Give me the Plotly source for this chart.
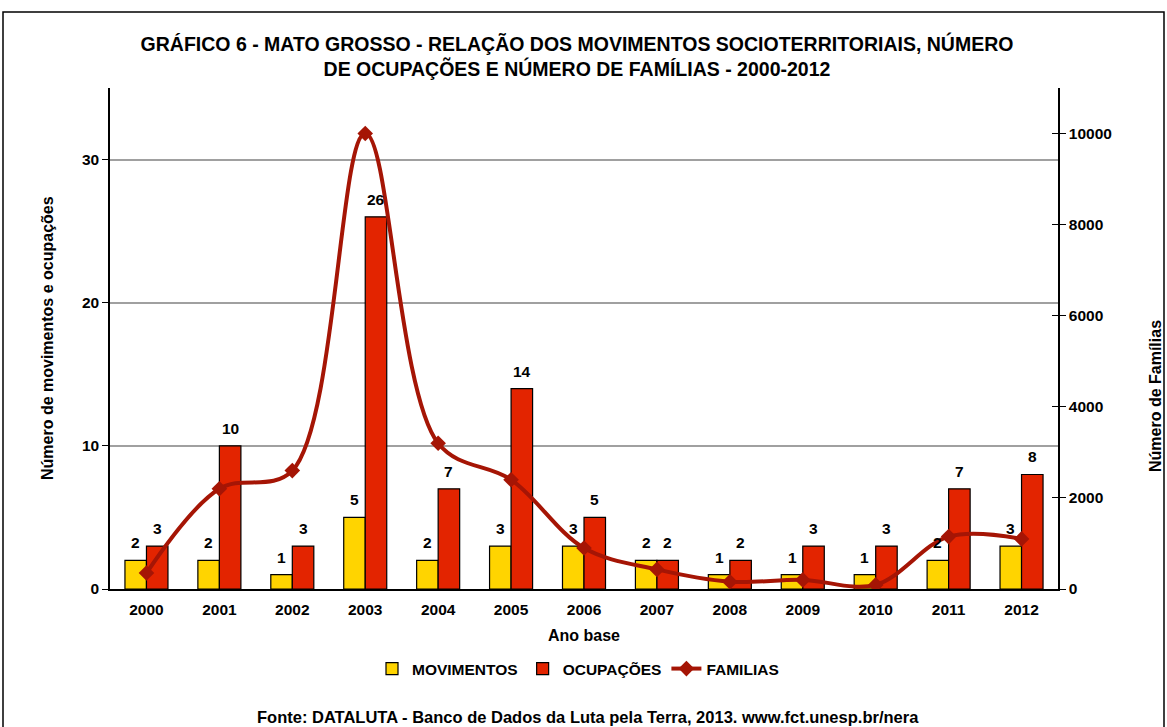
import plotly.graph_objects as go

anos = ["2000", "2001", "2002", "2003", "2004", "2005", "2006",
        "2007", "2008", "2009", "2010", "2011", "2012"]
movimentos = [2, 2, 1, 5, 2, 3, 3, 2, 1, 1, 1, 2, 3]
ocupacoes = [3, 10, 3, 26, 7, 14, 5, 2, 2, 3, 3, 7, 8]
familias = [350, 2200, 2600, 10000, 3200, 2400, 900, 430, 160, 200, 90, 1150, 1100]
ticks_fam = [0, 2000, 4000, 6000, 8000, 10000]
ticks_mov = [0, 10, 20, 30]

FONT = "Liberation Sans, Arial, sans-serif"
FS = 15.5
bold = dict(family=FONT, size=FS, color="black", weight="bold")

W, H = 1167, 727
L, R, T, B = 110, 109, 88, 138
PW, PH = W - L - R, H - T - B
BARGAP = 0.41


def px(xp):
    return (xp - L) / PW


def py(yp):
    return (H - B - yp) / PH


fig = go.Figure()
fig.add_trace(go.Bar(
    x=anos, y=movimentos, name="MOVIMENTOS",
    marker=dict(color="#FFD400", line=dict(color="black", width=1.2)),
))
fig.add_trace(go.Bar(
    x=anos, y=ocupacoes, name="OCUPAÇÕES",
    marker=dict(color="#E32400", line=dict(color="black", width=1.2)),
))
fig.add_trace(go.Scatter(
    x=anos, y=familias, name="FAMILIAS", yaxis="y2",
    mode="lines+markers",
    line=dict(color="#A51505", width=4, shape="spline", smoothing=1.0),
    marker=dict(symbol="diamond", size=12, color="#A51505"),
))
# helper trace to activate yaxis3 (ticks crossing the right axis)
fig.add_trace(go.Scatter(x=[anos[0]], y=[None], yaxis="y3", showlegend=False,
                         hoverinfo="skip"))

fig.update_layout(
    width=W, height=H,
    margin=dict(l=L, r=R, t=T, b=B),
    paper_bgcolor="white", plot_bgcolor="white",
    barmode="group", bargap=BARGAP, bargroupgap=0,
    font=dict(family=FONT, size=FS, color="black"),
    title=dict(
        text="GRÁFICO 6 - MATO GROSSO - RELAÇÃO DOS MOVIMENTOS SOCIOTERRITORIAIS, NÚMERO<br>DE OCUPAÇÕES E NÚMERO DE FAMÍLIAS - 2000-2012",
        x=577 / W, xanchor="center", y=1 - 51 / H, yanchor="middle",
        font=dict(family=FONT, size=19.5, color="black", weight="bold"),
    ),
    xaxis=dict(
        type="category", range=[-0.5, len(anos) - 0.5],
        showline=True, linecolor="black", linewidth=1.5,
        ticks="", tickfont=bold, showgrid=False, ticklabelstandoff=6,
    ),
    yaxis=dict(
        range=[0, 35], tickvals=ticks_mov, showline=True,
        linecolor="black", linewidth=1.5, ticks="outside", ticklen=6,
        tickcolor="black", tickfont=bold, showgrid=True, gridcolor="#A0A0A0",
        gridwidth=1.5, zeroline=False,
    ),
    yaxis2=dict(
        range=[0, 11000], tickvals=ticks_fam, ticktext=[str(v) for v in ticks_fam],
        overlaying="y", side="right", showline=True, linecolor="black",
        linewidth=1.5, ticks="outside", ticklen=6, tickcolor="black",
        tickfont=bold, showgrid=False, zeroline=False,
    ),
    yaxis3=dict(
        range=[0, 11000], tickvals=ticks_fam,
        overlaying="y", side="right", anchor="free", position=1,
        showline=False, ticks="inside", ticklen=6, tickcolor="black",
        showticklabels=False, showgrid=False, zeroline=False,
    ),
    legend=dict(
        orientation="h", x=px(578), xanchor="center", y=py(669), yanchor="middle",
        font=bold, traceorder="normal",
    ),
    showlegend=True,
)

# value labels above the bars (category axis positions are the category indices)
half = PW / len(anos) * (1 - BARGAP) / 4
for i, (m, o) in enumerate(zip(movimentos, ocupacoes)):
    fig.add_annotation(x=i, y=m, xref="x", yref="y", text=str(m), showarrow=False,
                       xshift=-half, yshift=17.5, yanchor="middle", font=bold)
    fig.add_annotation(x=i, y=o, xref="x", yref="y", text=str(o), showarrow=False,
                       xshift=half, yshift=17.5, yanchor="middle", font=bold)

fig.add_annotation(text="Número de movimentos e ocupações", xref="paper", yref="paper",
                   x=px(47), y=py(338), textangle=-90,
                   showarrow=False, font=dict(family=FONT, size=16, color="black", weight="bold"),
                   xanchor="center", yanchor="middle")
fig.add_annotation(text="Número de Famílias", xref="paper", yref="paper",
                   x=px(1155), y=py(396), textangle=-90,
                   showarrow=False, font=dict(family=FONT, size=16, color="black", weight="bold"),
                   xanchor="center", yanchor="middle")
fig.add_annotation(text="Ano base", xref="paper", yref="paper",
                   x=px(584), y=py(635),
                   showarrow=False, font=dict(family=FONT, size=16, color="black", weight="bold"),
                   xanchor="center", yanchor="middle")
fig.add_annotation(text="Fonte: DATALUTA - Banco de Dados da Luta pela Terra, 2013. www.fct.unesp.br/nera",
                   xref="paper", yref="paper",
                   x=px(588), y=py(717),
                   showarrow=False, font=dict(family=FONT, size=16.5, color="black", weight="bold"),
                   xanchor="center", yanchor="middle")

# outer frame
fig.add_shape(type="rect", xref="paper", yref="paper",
              x0=px(3), x1=px(1164), y0=py(740), y1=py(12),
              line=dict(color="black", width=1.5), fillcolor="rgba(0,0,0,0)", layer="below")

fig.write_html("out.html", config={"displayModeBar": False},
               post_script="document.body.style.margin='0';document.body.style.overflow='hidden';")
